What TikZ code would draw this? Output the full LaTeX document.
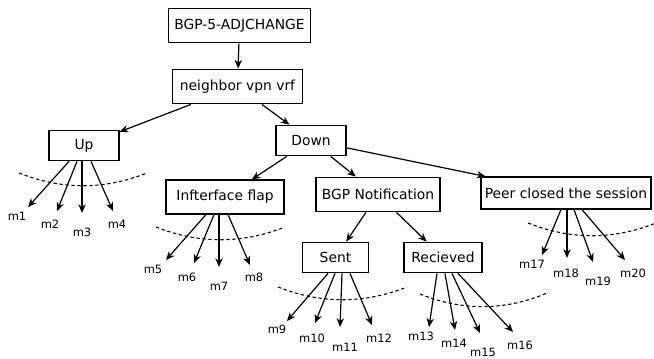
\documentclass[tikz,border=0pt]{standalone}
\usepackage{fontspec}
\setmainfont{DejaVu Sans}
\usetikzlibrary{calc,arrows.meta}

\begin{document}
\begin{tikzpicture}[x=0.75pt,y=-0.75pt]
  \tikzset{ box/.style={draw,line width=0.85pt,minimum height=23pt,inner sep=2pt,
      font=\fontsize{10.4}{12}\selectfont},
    arr/.style={line width=0.9pt,-{Stealth[length=6.5pt,width=5.5pt,inset=2pt]}},
    leaf/.style={inner sep=0pt,font=\fontsize{8.6}{10}\selectfont},
    arc/.style={line width=0.8pt,dash pattern=on 2.5pt off 2pt},
  }
  \useasboundingbox (0,0) rectangle (654,358);

  \node[box,minimum width=107pt,minimum height=26pt] (bgp) at (239.5,25.5) {BGP-5-ADJCHANGE};
  \node[box,minimum width=97pt,minimum height=26pt] (nbr) at (237.5,86.5) {neighbor vpn vrf};
  \node[box,minimum width=52.5pt] (up) at (84,145.5) {Up};
  \node[box,minimum width=52.5pt] (down) at (311,140.5) {Down};
  \node[box,minimum width=88.5pt,minimum height=25.5pt] (intf) at (225,197) {Infterface flap};
  \node[box,minimum width=93pt,minimum height=26pt] (notif) at (378,194.5) {BGP Notification};
  \node[box,minimum width=127.5pt,minimum height=24pt] (peer) at (566,193) {Peer closed the session};
  \node[box,minimum width=50pt] (sent) at (335.5,257.5) {Sent};
  \node[box,minimum width=58.5pt] (recv) at (443,257.5) {Recieved};

  % the tree
  \draw[arr] (bgp) -- (nbr);
  \draw[arr] (nbr) -- (up);
  \draw[arr] (nbr) -- (down);
  \draw[arr] (down) -- (intf);
  \draw[arr] (down) -- (notif);
  \draw[arr] (down) -- (peer);
  \draw[arr] (notif) -- (sent);
  \draw[arr] (notif) -- (recv);

  % the messages under each leaf
  \foreach \n/\p/\d/\tx/\ty/\lx/\ly in {
      1/up/-15/28/207/17/216, 2/up/-7/57/211/50/224,
      3/up/-2/82/213/82/232, 4/up/7/113/211/117/224,
      5/intf/-19/166/260/153/269, 6/intf/-11/194/263/187/277,
      7/intf/-6/219/267/219/286, 8/intf/3/250/265/254/277,
      9/sent/-7.5/287/321/277/329, 10/sent/-0.5/315/323/312/338,
      11/sent/6.5/340/327/345/347, 12/sent/14.5/372/325/379/338,
      13/recv/-6/429/327/421/336, 14/recv/2/455/330/454/343,
      15/recv/9/480/333/483/352, 16/recv/15/513/332/520/345,
      17/peer/-5/542/255/532/264, 18/peer/1/567/258/566/273,
      19/peer/8/593/262/598/281, 20/peer/16/625/260/633/273}
  {
    \coordinate (t\n) at (\tx,\ty);
    \node[leaf] (m\n) at (\lx,\ly) {m\n};
    \draw[arr] ($(\p.south)+(\d,0)$) -- (t\n);
  }

  % dashed arcs
  \draw[arc] (19,173) .. controls (62,190) and (104,190) .. (147,173);
  \draw[arc] (156,227) .. controls (199,244) and (242,244) .. (285,227);
  \draw[arc] (278,287) .. controls (321,304) and (364,304) .. (407,287);
  \draw[arc] (420,294) .. controls (462,311) and (505,311) .. (547,293);
  \draw[arc] (528,223) .. controls (571,240) and (613,240) .. (656,223);
\end{tikzpicture}
\end{document}
